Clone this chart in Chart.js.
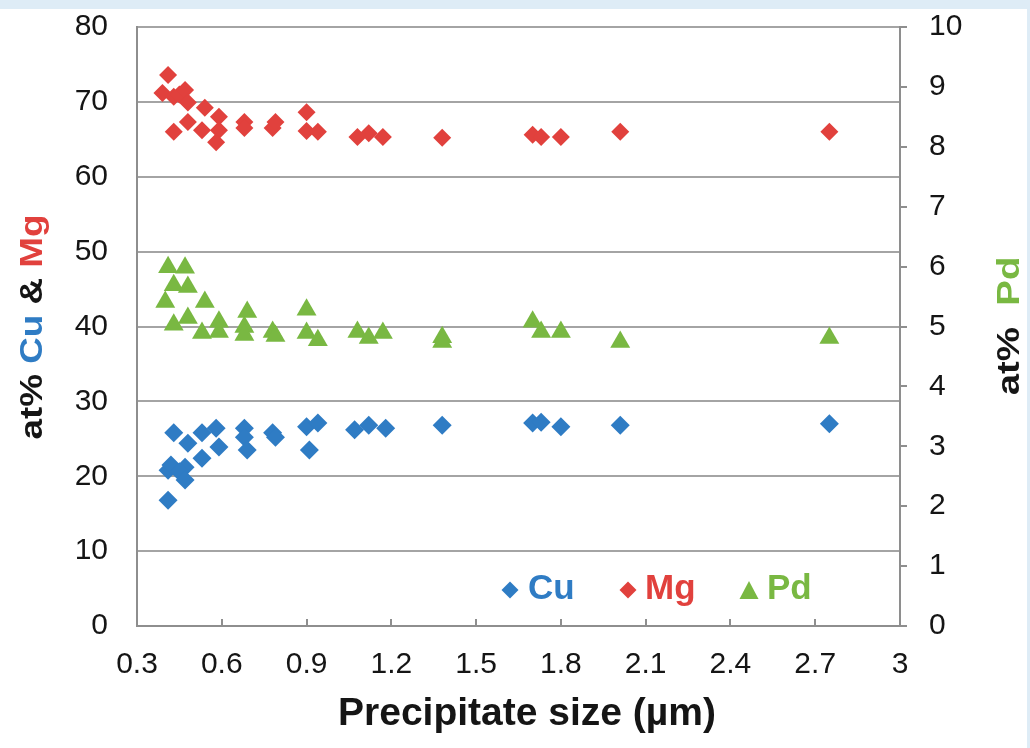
<!DOCTYPE html>
<html><head><meta charset="utf-8">
<script src="https://cdn.jsdelivr.net/npm/chart.js@4/dist/chart.umd.min.js"></script>
<style>html,body{margin:0;padding:0;background:#fff;}canvas{display:block;}</style>
</head><body>
<canvas id="c" width="1030" height="748"></canvas>
<script>
// ---- data ----
const xTicks = [0.3, 0.6, 0.9, 1.2, 1.5, 1.8, 2.1, 2.4, 2.7, 3.0];
const xTickLabels = ['0.3', '0.6', '0.9', '1.2', '1.5', '1.8', '2.1', '2.4', '2.7', '3'];
const leftTickLabels = ['0', '10', '20', '30', '40', '50', '60', '70', '80'];
const rightTickLabels = ['0', '1', '2', '3', '4', '5', '6', '7', '8', '9', '10'];

const cuX = [0.43,0.48,0.53,0.58,0.59,0.53,0.47,0.41,0.42,0.45,0.47,0.41,0.68,0.68,0.69,0.78,0.79,0.90,0.94,0.91,1.07,1.12,1.18,1.38,1.70,1.73,1.80,2.01,2.75];
const cuY = [25.8,24.4,25.8,26.4,23.9,22.4,21.2,20.8,21.5,20.6,19.5,16.8,26.4,25.2,23.5,25.8,25.2,26.6,27.1,23.5,26.2,26.8,26.4,26.8,27.1,27.2,26.6,26.8,27.0];

const mgX = [0.39,0.41,0.43,0.45,0.47,0.48,0.43,0.48,0.53,0.54,0.59,0.59,0.58,0.68,0.68,0.78,0.79,0.90,0.90,0.94,1.08,1.12,1.17,1.38,1.70,1.73,1.80,2.01,2.75];
const mgY = [71.2,73.6,70.7,71.0,71.6,69.9,66.0,67.3,66.2,69.2,68.0,66.2,64.6,67.3,66.5,66.5,67.3,68.6,66.1,66.0,65.3,65.8,65.3,65.2,65.6,65.3,65.3,66.0,66.0];

const pdX = [0.41,0.47,0.43,0.48,0.40,0.54,0.43,0.48,0.53,0.59,0.59,0.69,0.68,0.68,0.78,0.79,0.90,0.90,0.94,1.08,1.12,1.17,1.38,1.38,1.70,1.73,1.80,2.01,2.75];
const pdY = [5.99,5.98,5.69,5.66,5.41,5.41,5.03,5.14,4.89,5.08,4.91,5.24,4.99,4.86,4.91,4.84,5.28,4.89,4.77,4.91,4.81,4.89,4.82,4.74,5.08,4.91,4.91,4.74,4.81];

// ---- styles ----
const FONT = '"Liberation Sans", Arial, Helvetica, sans-serif';
const BLUE = '#2f7cc4', RED = '#e1413d', GREEN = '#79b842';
const GRID = '#a4a4a4', AXIS = '#8e8e8e', TXT = '#151515';

const toPts = (xs, ys) => xs.map((x, i) => ({x: x, y: ys[i]}));

const deco = {
  id: 'deco',
  beforeDraw(chart) {
    const ctx = chart.ctx;
    ctx.save();
    ctx.fillStyle = '#ffffff';
    ctx.fillRect(0, 0, chart.width, chart.height);
    ctx.fillStyle = '#deecf6';
    ctx.fillRect(0, 0, chart.width, 9);
    ctx.fillRect(1027, 0, 3, chart.height);
    ctx.restore();
  },
  afterDraw(chart) {
    const ctx = chart.ctx;
    const xs = chart.scales.x;
    const area = chart.chartArea;
    ctx.save();
    // inward x ticks
    ctx.strokeStyle = AXIS; ctx.lineWidth = 2;
    xTicks.forEach(v => {
      const px = Math.round(xs.getPixelForValue(v));
      ctx.beginPath(); ctx.moveTo(px, area.bottom); ctx.lineTo(px, area.bottom - 7); ctx.stroke();
    });
    // x title
    ctx.font = 'bold 39px ' + FONT;
    ctx.fillStyle = TXT; ctx.textAlign = 'center'; ctx.textBaseline = 'middle';
    ctx.fillText('Precipitate size (µm)', 527, 714);
    // vertical titles
    function vtitle(parts, cx, cy, size, stretch) {
      ctx.save();
      ctx.translate(cx, cy); ctx.rotate(-Math.PI / 2); ctx.scale(stretch, 1);
      ctx.font = 'bold ' + size + 'px ' + FONT;
      ctx.textBaseline = 'middle'; ctx.textAlign = 'left';
      const total = parts.reduce((s, p) => s + ctx.measureText(p.t).width, 0);
      let x = -total / 2;
      parts.forEach(p => { ctx.fillStyle = p.c; ctx.fillText(p.t, x, 0); x += ctx.measureText(p.t).width; });
      ctx.restore();
    }
    vtitle([{t: 'at% ', c: TXT}, {t: 'Cu', c: BLUE}, {t: ' & ', c: TXT}, {t: 'Mg', c: RED}], 33, 327, 32, 1.15);
    vtitle([{t: 'at%  ', c: TXT}, {t: 'Pd', c: GREEN}], 1010, 326, 32, 1.2);
    // legend
    ctx.font = 'bold 35px ' + FONT;
    ctx.textBaseline = 'alphabetic'; ctx.textAlign = 'left';
    function diamond(cx, cy, r, c) {
      ctx.fillStyle = c; ctx.beginPath();
      ctx.moveTo(cx, cy - r); ctx.lineTo(cx + r, cy); ctx.lineTo(cx, cy + r); ctx.lineTo(cx - r, cy); ctx.closePath(); ctx.fill();
    }
    diamond(510, 590, 8.5, BLUE);
    ctx.fillStyle = BLUE; ctx.fillText('Cu', 528, 599);
    diamond(628, 590, 8.5, RED);
    ctx.fillStyle = RED; ctx.fillText('Mg', 645, 599);
    ctx.fillStyle = GREEN; ctx.beginPath();
    ctx.moveTo(749, 581); ctx.lineTo(758.5, 599); ctx.lineTo(739.5, 599); ctx.closePath(); ctx.fill();
    ctx.fillText('Pd', 767, 599);
    ctx.restore();
  }
};

new Chart(document.getElementById('c'), {
  type: 'scatter',
  data: {
    datasets: [
      {label: 'Pd', data: toPts(pdX, pdY), yAxisID: 'y2', pointStyle: 'triangle', pointRadius: 11.5, pointHoverRadius: 11.5, backgroundColor: GREEN, borderColor: GREEN, borderWidth: 0},
      {label: 'Mg', data: toPts(mgX, mgY), yAxisID: 'y', pointStyle: 'rectRot', pointRadius: 9, pointHoverRadius: 9, backgroundColor: RED, borderColor: RED, borderWidth: 0},
      {label: 'Cu', data: toPts(cuX, cuY), yAxisID: 'y', pointStyle: 'rectRot', pointRadius: 9.5, pointHoverRadius: 9.5, backgroundColor: BLUE, borderColor: BLUE, borderWidth: 0}
    ]
  },
  options: {
    responsive: false,
    animation: false,
    devicePixelRatio: 1,
    layout: {padding: {top: 27, left: 0, right: 0, bottom: 0}},
    plugins: {legend: {display: false}, tooltip: {enabled: false}},
    events: [],
    scales: {
      x: {
        type: 'linear', min: 0.3, max: 3,
        afterBuildTicks: s => { s.ticks = xTicks.map(v => ({value: v})); },
        afterFit: s => { s.height = 122; s.paddingLeft = 0; s.paddingRight = 0; },
        ticks: {callback: (v, i) => xTickLabels[i], font: {size: 30, family: FONT}, color: TXT, padding: 21, maxRotation: 0, autoSkip: false},
        grid: {drawOnChartArea: false, drawTicks: false},
        border: {display: true, color: AXIS, width: 2},
        title: {display: false}
      },
      y: {
        type: 'linear', position: 'left', min: 0, max: 80,
        afterBuildTicks: s => { s.ticks = leftTickLabels.map(t => ({value: Number(t)})); },
        afterFit: s => { s.width = 137; s.paddingTop = 0; s.paddingBottom = 0; },
        ticks: {callback: (v, i) => leftTickLabels[i], font: {size: 30, family: FONT}, color: TXT, padding: 29},
        grid: {color: GRID, lineWidth: 2, drawTicks: false},
        border: {display: true, color: AXIS, width: 2}
      },
      y2: {
        type: 'linear', position: 'right', min: 0, max: 10,
        afterBuildTicks: s => { s.ticks = rightTickLabels.map(t => ({value: Number(t)})); },
        afterFit: s => { s.width = 130; s.paddingTop = 0; s.paddingBottom = 0; },
        ticks: {callback: (v, i) => rightTickLabels[i], font: {size: 30, family: FONT}, color: TXT, padding: 22},
        grid: {drawOnChartArea: false, drawTicks: true, tickLength: 7, color: AXIS, lineWidth: 2},
        border: {display: true, color: AXIS, width: 2}
      }
    }
  },
  plugins: [deco]
});
</script>
</body></html>
